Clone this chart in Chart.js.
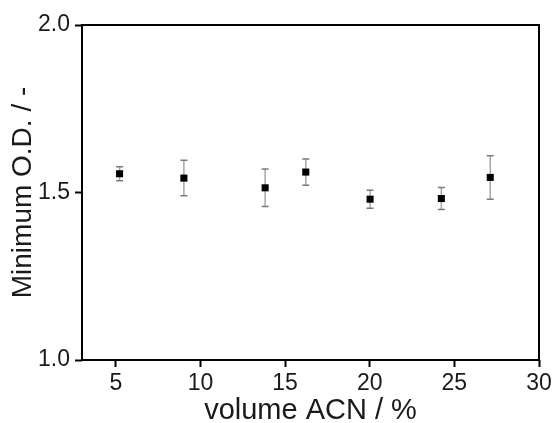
<!DOCTYPE html>
<html>
<head>
<meta charset="utf-8">
<script src="https://cdn.jsdelivr.net/npm/chart.js@4.4.1/dist/chart.umd.min.js"></script>
<style>
  html, body { margin: 0; padding: 0; background: #fff; }
  #wrap { width: 555px; height: 423px; }
</style>
</head>
<body>
<div id="wrap"><canvas id="myChart" width="555" height="423"></canvas></div>
<script>
// data
const acnVolume = [5.22, 9.02, 13.82, 16.22, 20.02, 24.23, 27.12];
const minOD = [1.556, 1.543, 1.514, 1.561, 1.480, 1.482, 1.545];
const odError = [0.021, 0.053, 0.056, 0.039, 0.027, 0.033, 0.065];
const xTicks = [5, 10, 15, 20, 25, 30];
const yTicks = [1.0, 1.5, 2.0];

const points = acnVolume.map((x, i) => ({x: x, y: minOD[i]}));

// error bars, drawn through the chart scales
const errorBars = {
    id: 'errorBars',
    beforeDatasetsDraw(chart) {
        const ctx = chart.ctx;
        const xs = chart.scales.x;
        const ys = chart.scales.y;
        ctx.save();
        for (let i = 0; i < acnVolume.length; i++) {
            const px = xs.getPixelForValue(acnVolume[i]);
            const top = ys.getPixelForValue(minOD[i] + odError[i]);
            const bot = ys.getPixelForValue(minOD[i] - odError[i]);
            ctx.strokeStyle = '#a6a6a6';
            ctx.lineWidth = 1.5;
            ctx.beginPath();
            ctx.moveTo(px, top);
            ctx.lineTo(px, bot);
            ctx.stroke();
            ctx.strokeStyle = '#7a7a7a';
            ctx.beginPath();
            ctx.moveTo(px - 3.5, top);
            ctx.lineTo(px + 3.5, top);
            ctx.moveTo(px - 3.5, bot);
            ctx.lineTo(px + 3.5, bot);
            ctx.stroke();
        }
        ctx.restore();
    }
};

// box round the plot
const frame = {
    id: 'frame',
    afterDraw(chart) {
        const a = chart.chartArea;
        const ctx = chart.ctx;
        ctx.save();
        ctx.strokeStyle = '#000';
        ctx.lineWidth = 2;
        ctx.strokeRect(a.left, a.top, a.right - a.left, a.bottom - a.top);
        ctx.restore();
    }
};

const ctx = document.getElementById('myChart');
const myChart = new Chart(ctx, {
    type: 'scatter',
    data: {
        datasets: [{
            label: 'Minimum O.D.',
            data: points,
            pointStyle: 'rect',
            pointRadius: 5,
            pointHoverRadius: 5,
            borderWidth: 0,
            backgroundColor: '#000',
            borderColor: '#000'
        }]
    },
    options: {
        responsive: false,
        animation: false,
        devicePixelRatio: 1,
        layout: {
            padding: {left: 0, right: 16, top: 25, bottom: 0}
        },
        plugins: {
            legend: {display: false},
            tooltip: {enabled: false}
        },
        scales: {
            x: {
                type: 'linear',
                min: 3,
                max: 30,
                afterBuildTicks: s => { s.ticks = xTicks.map(v => ({value: v})); },
                afterFit: s => { s.height = 63; },
                border: {display: false},
                grid: {
                    drawOnChartArea: false,
                    drawTicks: true,
                    tickLength: 7,
                    tickColor: '#000',
                    tickWidth: 2
                },
                ticks: {
                    padding: 3,
                    color: '#1a1a1a',
                    font: {family: 'Liberation Sans', size: 23},
                    maxRotation: 0
                },
                title: {
                    display: true,
                    text: 'volume ACN / %',
                    color: '#1a1a1a',
                    padding: 0,
                    font: {family: 'Liberation Sans', size: 29, lineHeight: 0.85}
                }
            },
            y: {
                type: 'linear',
                min: 1.0,
                max: 2.0,
                afterBuildTicks: s => { s.ticks = yTicks.map(v => ({value: v})); },
                afterFit: s => { s.width = 82; },
                border: {display: false},
                grid: {
                    drawOnChartArea: false,
                    drawTicks: true,
                    tickLength: 7,
                    tickColor: '#000',
                    tickWidth: 2
                },
                ticks: {
                    padding: 5,
                    color: '#1a1a1a',
                    font: {family: 'Liberation Sans', size: 23},
                    callback: v => v.toFixed(1)
                },
                title: {
                    display: true,
                    text: 'Minimum O.D. / -',
                    color: '#1a1a1a',
                    padding: {top: 6, bottom: 0},
                    font: {family: 'Liberation Sans', size: 28, lineHeight: 1.2}
                }
            }
        }
    },
    plugins: [errorBars, frame]
});
</script>
</body>
</html>
